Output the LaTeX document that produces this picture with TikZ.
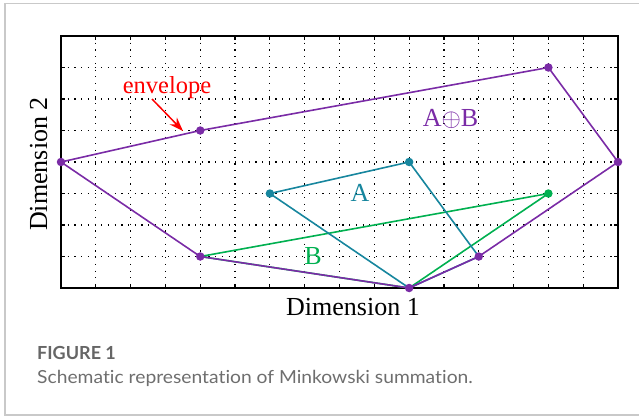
\documentclass[tikz,border=0pt]{standalone}
\usepackage{fontspec}
\setmainfont{Liberation Serif}
\newfontfamily\capfont[Ligatures={NoCommon,TeX}]{Lato}
\usetikzlibrary{arrows.meta}
\definecolor{envpurple}{HTML}{7A2BA6}
\definecolor{ateal}{HTML}{17869E}
\definecolor{bgreen}{HTML}{00B050}
\definecolor{capgray}{HTML}{6E6E6E}
\definecolor{capdark}{HTML}{666666}
\definecolor{framegray}{HTML}{C9C9C9}
\tikzset{
  gridline/.style={line width=1.2pt, dash pattern=on 1.2pt off 5.5pt, black},
  axisframe/.style={line width=1.5pt, black},
  tickmark/.style={line width=1.2pt, black},
  polyline/.style={line width=1.6pt, line join=round},
  pdot/.style={circle, fill=#1, inner sep=0pt, minimum size=8.5pt},
  plottext/.style={font=\fontsize{26}{28}\selectfont, inner sep=0pt},
}
\begin{document}
\begin{tikzpicture}[x=1pt, y=-1pt]
\useasboundingbox (0,0) rectangle (639,416);
% outer frame
\draw[framegray, line width=1.2pt] (639,3.5) -- (5,3.5) -- (5,415) -- (639,415);
% grid
\foreach \i in {1,...,15} {
  \draw[gridline] (61+34.8125*\i, 36) -- (61+34.8125*\i, 288);
  \draw[tickmark] (61+34.8125*\i, 288) -- (61+34.8125*\i, 284);
  \draw[tickmark] (61+34.8125*\i, 36) -- (61+34.8125*\i, 40);
}
\foreach \j in {1,...,7} {
  \draw[gridline] (61, 288-31.5*\j) -- (618, 288-31.5*\j);
  \draw[tickmark] (61, 288-31.5*\j) -- (65, 288-31.5*\j);
  \draw[tickmark] (618, 288-31.5*\j) -- (614, 288-31.5*\j);
}
\draw[axisframe] (61,36) rectangle (618,288);
% points (grid units)
\coordinate (e1) at (61+34.8125*0, 288-31.5*4);
\coordinate (e2) at (61+34.8125*4, 288-31.5*5);
\coordinate (e3) at (61+34.8125*14, 288-31.5*7);
\coordinate (e4) at (61+34.8125*16, 288-31.5*4);
\coordinate (e5) at (61+34.8125*12, 288-31.5*1);
\coordinate (e6) at (61+34.8125*10, 288-31.5*0);
\coordinate (e7) at (61+34.8125*4, 288-31.5*1);
\coordinate (a1) at (61+34.8125*6, 288-31.5*3);
\coordinate (a2) at (61+34.8125*10, 288-31.5*4);
\coordinate (b2) at (61+34.8125*14, 288-31.5*3);
% B
\draw[polyline, bgreen] (e7) -- (b2) -- (e6) -- cycle;
% A
\draw[polyline, ateal] (a1) -- (a2) -- (e5) -- (e6) -- cycle;
% envelope
\draw[polyline, envpurple] (e1) -- (e2) -- (e3) -- (e4) -- (e5) -- (e6) -- (e7) -- cycle;
% dots
\node[pdot=bgreen] (db2) at (b2) {};
\node[pdot=ateal] (da1) at (a1) {};
\node[pdot=ateal] (da2) at (a2) {};
\foreach \n in {e1,e2,e3,e4,e5,e6,e7} { \node[pdot=envpurple] (d\n) at (\n) {}; }
% labels
\node[plottext, red, font=\fontsize{24.5}{26}\selectfont] (envlab) at (167,88) {envelope};
\coordinate (envtail) at (152,99);
\draw[red, line width=1.5pt, -{Stealth[length=14pt, width=10pt]}] (envtail) -- (183,131);
\node[plottext, envpurple] (sumlab) at (450.5,119) {A$\oplus$B};
\node[plottext, ateal] (alab) at (360,193) {A};
\node[plottext, bgreen] (blab) at (313,256) {B};
\node[plottext, anchor=base] (xlab) at (353,315) {Dimension 1};
\node[plottext, rotate=90, anchor=base] (ylab) at (47,164) {Dimension 2};
% caption
\node[anchor=base west, inner sep=0pt, capdark, font=\capfont\bfseries\fontsize{18}{20}\selectfont] (figlab) at (37,359) {FIGURE 1};
\node[anchor=base west, inner sep=0pt, capgray, xscale=1.07, font=\capfont\fontsize{18}{20}\selectfont] (caplab) at (37,383) {Schematic representation of Minkowski summation.};
\end{tikzpicture}
\end{document}
